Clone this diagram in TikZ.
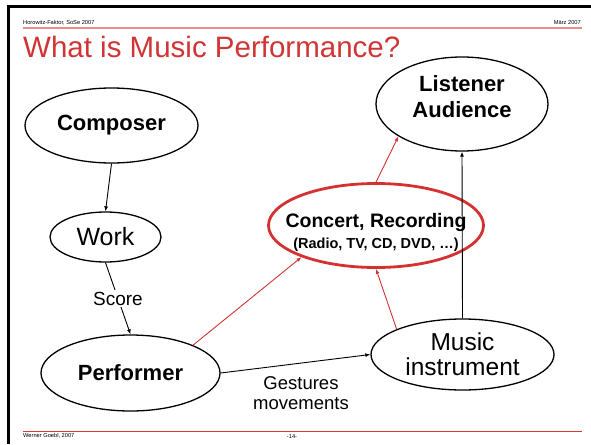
\documentclass[tikz,border=0pt]{standalone}
\usepackage{fontspec}
\setmainfont{Liberation Sans}
\usetikzlibrary{shapes.geometric, arrows.meta, positioning}
\definecolor{titlered}{RGB}{208,52,52}
\definecolor{rulepink}{RGB}{232,140,140}
\definecolor{rulered}{RGB}{214,58,58}
\definecolor{linkred}{RGB}{212,50,50}
\tikzset{
  ell/.style={ellipse, draw, line width=1.3pt, inner sep=0pt, align=center},
  boldtxt/.style={font=\fontsize{22}{26}\selectfont\bfseries, align=center},
  normtxt/.style={font=\fontsize{24.5}{25}\selectfont, align=center},
  hdr/.style={font=\fontsize{5.7}{7}\selectfont, inner sep=0pt},
  rule/.style={line width=1.2pt},
  arr/.style={-{Latex[length=5pt, width=4pt]}, line width=0.9pt},
  redarr/.style={arr, draw=linkred},
}
\begin{document}
\begin{tikzpicture}[x=1pt, y=-1pt]
  \useasboundingbox (0,0) rectangle (591,444);
  \draw[line width=3.3pt] (8.3,444) -- (8.3,6.5) -- (591,6.5);

  \node[hdr, anchor=base west] (course) at (23,25) {Horowitz-Faktor, SoSe 2007};
  \node[hdr, anchor=base east] (date) at (581,25) {März 2007};
  \draw[rule, draw=rulepink] (23,28) -- (582,28);
  \node[anchor=base west, inner sep=0pt, text=titlered,
    font=\fontsize{29.5}{32}\selectfont] (title) at (23,57.5) {What is Music Performance?};

  \node[ell, boldtxt, minimum width=173pt, minimum height=75pt] (composer) at (111.5,125.5) {Composer};
  \node[ell, font=\fontsize{25}{26}\selectfont, minimum width=111pt, minimum height=50pt] (work) at (105.5,237) {Work};
  \node[ell, boldtxt, minimum width=179pt, minimum height=76pt] (performer) at (130.5,373) {Performer};
  \node[ell, draw=linkred, line width=2.8pt, minimum width=215pt, minimum height=84pt] (concert) at (376,225.5) {};
  \node[font=\fontsize{19.5}{21}\selectfont\bfseries, align=center] (concerttext) at (376,232)
    {Concert, Recording\\{\fontsize{14.5}{17}\selectfont (Radio, TV, CD, DVD, …)}};
  \node[ell, normtxt, minimum width=183pt, minimum height=71pt] (music) at (462.5,354.5) {Music\\instrument};
  \node[ell, minimum width=172pt, minimum height=94pt] (listener) at (462,104) {};
  \node[boldtxt] (listenertext) at (462,97) {Listener\\Audience};

  \draw[arr] (composer.south) -- (work.north);
  \draw[arr] (work.south) -- node[fill=white, inner sep=2pt, font=\fontsize{19}{20}\selectfont] (score) {Score} (performer.north);
  \draw[arr] (performer.east) -- node[below=9.5pt, xshift=5.5pt, align=center,
    font=\fontsize{18.5}{20}\selectfont] (gestures) {Gestures\\movements} (music.west);
  \draw[redarr] (performer.24) -- (concert.203);
  \draw[redarr] (music.159) -- (concert.south);
  \draw[redarr] (concert.north) -- (listener.207);
  \draw[arr] (music.north) -- (listener.south);

  \draw[rule, draw=rulered] (23,431.7) -- (582,431.7);
  \node[hdr, anchor=base west] (author) at (23,437.5) {Werner Goebl, 2007};
  \node[hdr, anchor=base] (page) at (292,438) {-14-};
\end{tikzpicture}
\end{document}
